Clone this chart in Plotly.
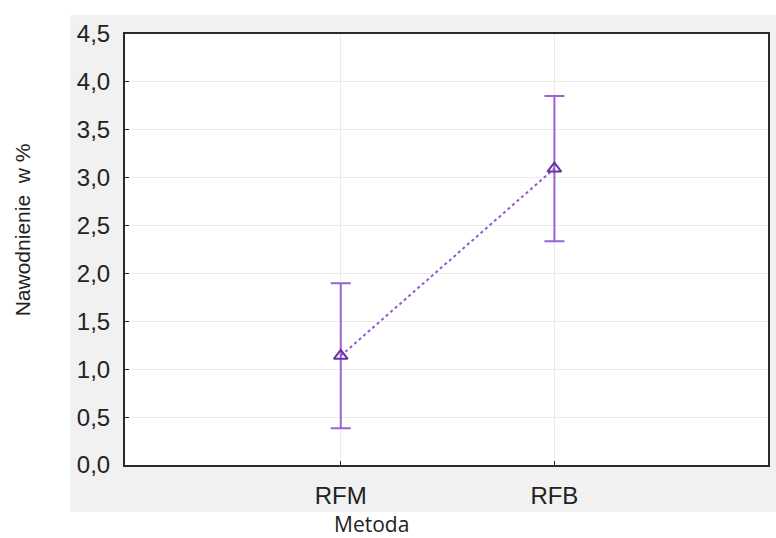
import plotly.graph_objects as go

# Group means with confidence interval half-widths
categories = ["RFM", "RFB"]
means = [1.14, 3.095]
ci_half = [0.757, 0.758]
y_ticks = [0.0, 0.5, 1.0, 1.5, 2.0, 2.5, 3.0, 3.5, 4.0, 4.5]

x_pos = list(range(len(categories)))

W, H = 776, 538
L, R, T, B = 125, 6, 34, 73
pw, ph = W - L - R, H - T - B

def px_x(px):
    return (px - L) / pw

def px_y(py):
    return (H - B - py) / ph

fig = go.Figure()

fig.add_trace(go.Scatter(
    x=x_pos, y=means,
    mode="lines+markers",
    line=dict(color="#8F5BCB", width=2, dash="dot"),
    marker=dict(symbol="triangle-up-open", size=12, color="#6B2FA3",
                line=dict(width=2, color="#6B2FA3")),
    error_y=dict(type="data", array=ci_half, visible=True,
                 color="#9A63D3", thickness=2, width=10),
    showlegend=False,
))

axis_common = dict(
    showline=True, linecolor="#2b2b2b", linewidth=2, mirror=True,
    ticks="inside", ticklen=4, tickcolor="#2b2b2b",
    showgrid=True, gridcolor="#ebebeb", gridwidth=1,
    zeroline=False,
    ticklabelstandoff=8,
    tickfont=dict(family="Liberation Sans, Arial, sans-serif", size=24, color="#222"),
)

# Light grey frame behind the axes, white strips where the titles sit
white_strips = [
    (-20, 70, -20, 560),
    (-20, 800, -20, 15),
    (-20, 800, 512, 560),
]

shapes = [dict(
    type="rect", xref="paper", yref="paper", layer="below",
    x0=px_x(x0), x1=px_x(x1), y0=px_y(y1), y1=px_y(y0),
    fillcolor="white", line=dict(width=0),
) for x0, x1, y0, y1 in white_strips]

fig.update_layout(
    width=W, height=H,
    margin=dict(l=L, r=R, t=T, b=B),
    paper_bgcolor="#f1f1f1",
    plot_bgcolor="white",
    separators=", ",
    xaxis=dict(
        range=[-1.01, 2.0],
        tickvals=x_pos, ticktext=categories,
        **axis_common,
    ),
    yaxis=dict(
        range=[0, 4.5],
        tickvals=y_ticks, tickformat=".1f",
        **axis_common,
    ),
    shapes=shapes,
    annotations=[
        dict(text="Metoda", xref="paper", yref="paper",
             x=px_x(372), y=px_y(524), xanchor="center", yanchor="middle",
             showarrow=False,
             font=dict(family="Open Sans, Noto Sans, sans-serif", size=21, color="#222")),
        dict(text="Nawodnienie  w %", xref="paper", yref="paper",
             x=px_x(22), y=px_y(230), xanchor="center", yanchor="middle",
             textangle=-90, showarrow=False,
             font=dict(family="Liberation Sans, Arial, sans-serif", size=21, color="#222")),
    ],
)

fig.write_html("out.html")
